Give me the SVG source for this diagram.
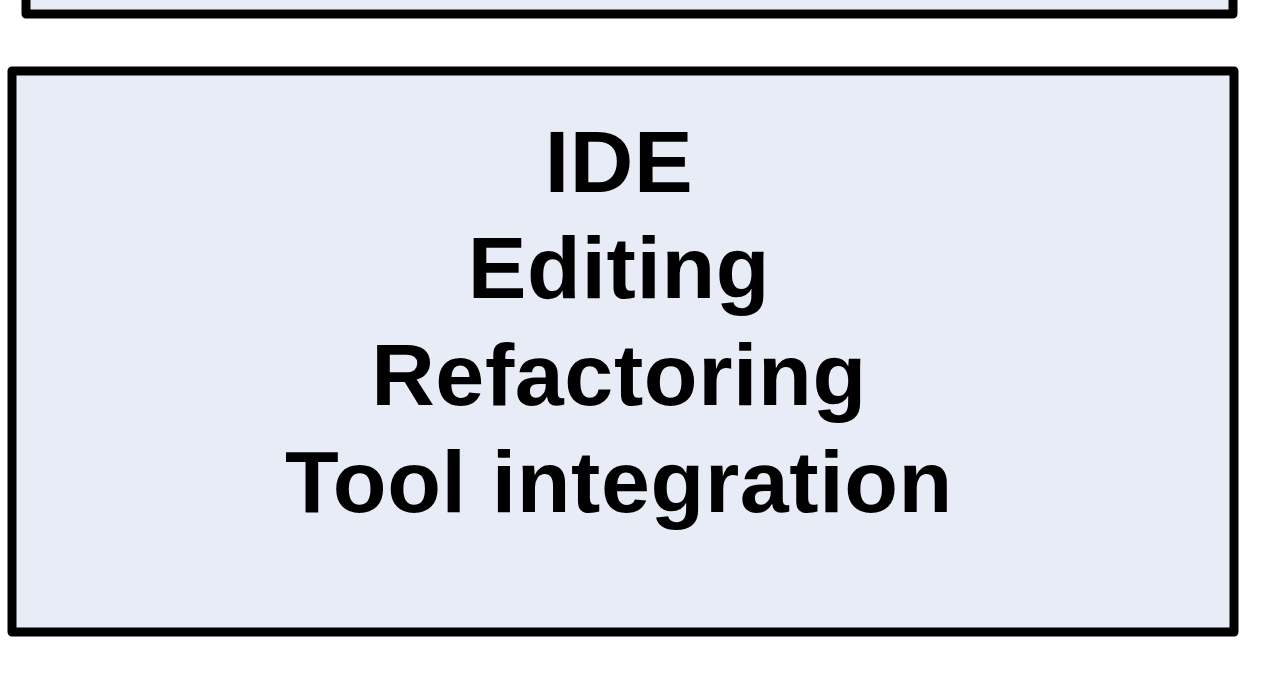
<svg xmlns="http://www.w3.org/2000/svg" width="1288" height="680" viewBox="0 0 1288 680">
<style>
.box{fill:#E8ECF6;stroke:#000;stroke-width:9;stroke-linejoin:round}
.t{font-family:"Liberation Sans",Arial,sans-serif;font-weight:bold;font-size:88px;letter-spacing:0.6px;fill:#000;text-anchor:middle}
</style>
<rect width="1288" height="680" fill="#fff"/>
<g id="top-box">
<rect class="box" x="26" y="-40" width="1207" height="54"/>
</g>
<g id="ide-box">
<rect class="box" x="12" y="71" width="1222" height="561"/>
<text class="t" x="619" y="192">IDE</text>
<text class="t" x="619" y="298">Editing</text>
<text class="t" x="619" y="405">Refactoring</text>
<text class="t" x="619" y="512">Tool integration</text>
</g>
<g id="connectors"/>
</svg>
